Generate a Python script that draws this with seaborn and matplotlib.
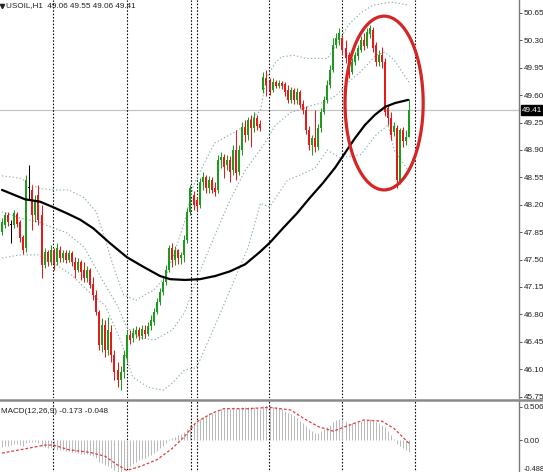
import matplotlib
matplotlib.use("Agg")
import matplotlib.pyplot as plt
import matplotlib.transforms as mtransforms
from matplotlib.lines import Line2D
from matplotlib.patches import Ellipse
import numpy as np
import seaborn as sns

# ---- USOIL H1 candles (open, high, low, close) ----
opens = [47.85, 47.94, 48.07, 47.94, 47.94, 48.08, 47.98, 47.79, 47.65, 48.42,
         48.39, 48.07, 48.33, 48.07, 47.43, 47.60, 47.47, 47.62, 47.47, 47.62,
         47.52, 47.58, 47.50, 47.58, 47.47, 47.37, 47.47, 47.37, 47.26, 47.37,
         47.19, 47.05, 46.83, 46.41, 46.66, 46.35, 46.57, 46.28, 46.09, 45.96,
         46.06, 46.24, 46.54, 46.50, 46.55, 46.60, 46.52, 46.60, 46.55, 46.65,
         46.70, 46.83, 46.96, 47.09, 47.22, 47.37, 47.65, 47.50, 47.62, 47.52,
         47.56, 47.75, 48.11, 48.33, 48.26, 48.20, 48.49, 48.55, 48.42, 48.52,
         48.42, 48.39, 48.77, 48.81, 48.71, 48.77, 48.64, 48.90, 48.62, 48.90,
         49.19, 49.09, 49.28, 49.18, 49.31, 49.23, 49.67, 49.82, 49.77, 49.67,
         49.77, 49.72, 49.76, 49.74, 49.67, 49.54, 49.67, 49.54, 49.64, 49.49,
         49.41, 49.16, 48.96, 49.05, 48.94, 49.18, 49.39, 49.54, 49.73, 49.92,
         50.24, 50.31, 50.33, 50.20, 50.11, 49.90, 50.02, 50.10, 50.18, 50.31,
         50.23, 50.38, 50.43, 50.24, 50.02, 50.11, 50.02, 49.44, 49.31, 49.13,
         49.18, 48.49, 49.16, 49.01, 49.06]
highs = [48.03, 48.11, 48.11, 48.01, 48.13, 48.11, 48.01, 47.81, 48.58, 48.71,
         48.45, 48.33, 48.45, 48.20, 47.65, 47.62, 47.69, 47.65, 47.71, 47.67,
         47.62, 47.62, 47.62, 47.61, 47.53, 47.52, 47.50, 47.47, 47.42, 47.39,
         47.28, 47.11, 46.86, 46.75, 46.73, 46.77, 46.66, 46.35, 46.19, 46.14,
         46.35, 46.60, 46.60, 46.63, 46.65, 46.64, 46.66, 46.66, 46.70, 46.79,
         46.88, 47.01, 47.14, 47.26, 47.43, 47.69, 47.71, 47.67, 47.64, 47.60,
         47.81, 48.16, 48.45, 48.37, 48.30, 48.54, 48.62, 48.58, 48.57, 48.56,
         48.49, 48.84, 48.87, 48.85, 48.84, 48.82, 48.96, 49.16, 48.96, 49.26,
         49.28, 49.32, 49.35, 49.38, 49.35, 49.28, 49.90, 49.92, 49.82, 49.82,
         49.79, 49.79, 49.78, 49.77, 49.73, 49.70, 49.69, 49.69, 49.67, 49.54,
         49.46, 49.21, 49.09, 49.41, 49.23, 49.44, 49.59, 49.79, 49.99, 50.33,
         50.39, 50.46, 50.37, 50.31, 50.15, 50.08, 50.15, 50.24, 50.36, 50.39,
         50.46, 50.50, 50.47, 50.28, 50.18, 50.21, 50.07, 49.48, 49.39, 49.26,
         49.22, 49.18, 49.20, 49.16, 49.55]
lows = [47.81, 47.90, 47.93, 47.71, 47.90, 47.92, 47.72, 47.57, 47.60, 48.26,
        47.88, 47.98, 47.94, 47.26, 47.39, 47.42, 47.43, 47.37, 47.43, 47.47,
        47.47, 47.46, 47.47, 47.42, 47.26, 47.34, 47.24, 47.21, 47.21, 47.14,
        46.98, 46.79, 46.35, 46.32, 46.26, 46.28, 46.19, 45.96, 45.87, 45.83,
        45.99, 46.19, 46.42, 46.45, 46.50, 46.47, 46.49, 46.50, 46.52, 46.60,
        46.66, 46.81, 46.92, 47.05, 47.18, 47.34, 47.41, 47.43, 47.45, 47.44,
        47.47, 47.71, 48.07, 48.13, 48.13, 48.16, 48.39, 48.35, 48.35, 48.35,
        48.31, 48.35, 48.67, 48.54, 48.64, 48.49, 48.58, 48.52, 48.58, 48.84,
        49.00, 49.03, 48.94, 49.13, 49.16, 49.14, 49.63, 49.59, 49.60, 49.64,
        49.69, 49.69, 49.68, 49.59, 49.50, 49.50, 49.49, 49.49, 49.44, 49.36,
        49.10, 48.90, 48.84, 48.87, 48.90, 49.13, 49.36, 49.50, 49.69, 49.90,
        50.20, 50.24, 50.11, 50.01, 49.82, 49.87, 49.99, 50.05, 50.15, 50.18,
        50.20, 50.33, 50.15, 49.97, 49.97, 49.95, 49.33, 49.22, 49.03, 49.08,
        48.42, 48.46, 48.94, 48.96, 49.06]
closes = [47.98, 48.07, 47.98, 47.94, 48.09, 47.95, 47.78, 47.62, 48.52, 48.42,
          48.07, 48.26, 48.01, 47.43, 47.60, 47.47, 47.62, 47.44, 47.65, 47.52,
          47.58, 47.50, 47.58, 47.47, 47.37, 47.47, 47.34, 47.26, 47.37, 47.18,
          47.05, 46.83, 46.41, 46.66, 46.35, 46.60, 46.28, 46.06, 45.96, 46.06,
          46.28, 46.54, 46.47, 46.56, 46.60, 46.52, 46.61, 46.55, 46.65, 46.73,
          46.83, 46.96, 47.09, 47.22, 47.37, 47.65, 47.50, 47.62, 47.52, 47.56,
          47.75, 48.11, 48.41, 48.20, 48.18, 48.49, 48.55, 48.42, 48.52, 48.39,
          48.36, 48.77, 48.81, 48.68, 48.77, 48.62, 48.90, 48.61, 48.90, 49.19,
          49.09, 49.28, 49.18, 49.31, 49.21, 49.18, 49.83, 49.73, 49.67, 49.77,
          49.72, 49.76, 49.72, 49.64, 49.54, 49.67, 49.54, 49.64, 49.48, 49.41,
          49.16, 48.96, 49.05, 48.94, 49.18, 49.39, 49.54, 49.73, 49.92, 50.24,
          50.33, 50.39, 50.18, 50.07, 49.86, 50.02, 50.11, 50.20, 50.31, 50.23,
          50.41, 50.46, 50.20, 50.02, 50.11, 50.02, 49.39, 49.31, 49.09, 49.21,
          48.52, 49.16, 49.01, 49.06, 49.41]

# ---- moving average (bar position, value) ----
ma_idx = [0, 7.6, 12.5, 16.8, 21.4, 25.7, 30, 35.5, 41.1, 46.4, 52, 55.3, 60.2,
          65.1, 70.1, 75, 80, 84.9, 88.2, 92.4, 97, 101.3, 105.6, 109.5, 112.8,
          116.1, 119.4, 122.7, 126, 129.3, 133.6]
ma_val = [48.39, 48.27, 48.24, 48.17, 48.09, 48.01, 47.90, 47.71, 47.53, 47.41,
          47.29, 47.25, 47.24, 47.25, 47.29, 47.35, 47.44, 47.60, 47.72, 47.90,
          48.09, 48.29, 48.48, 48.67, 48.86, 49.05, 49.22, 49.35, 49.45, 49.50,
          49.54]

# ---- Bollinger bands ----
bb_up_idx = [0, 6, 12, 17, 22, 27, 31, 34, 37, 40, 44, 47, 50, 54, 57, 60, 63, 67,
             70, 78, 85, 87, 90, 92, 96, 100, 107, 110, 114, 118, 122, 128, 134]
bb_up_val = [48.57, 48.54, 48.41, 48.39, 48.39, 48.29, 48.11, 47.75, 47.37, 47.05,
             46.98, 47.05, 47.11, 47.30, 47.62, 47.98, 48.45, 48.77, 48.99, 49.16,
             49.40, 49.82, 50.02, 50.09, 50.11, 50.07, 50.07, 50.24, 50.50, 50.65,
             50.75, 50.79, 50.75]
bb_mid_idx = [0, 6, 12, 17, 21, 27, 33, 38, 41, 45, 50, 56, 60, 65, 70, 75, 80, 86,
              90, 95, 102, 106, 110, 114, 118, 123, 126, 129, 134]
bb_mid_val = [48.11, 48.03, 47.98, 47.90, 47.85, 47.66, 47.24, 46.91, 46.64, 46.51,
              46.47, 46.60, 46.82, 47.34, 47.81, 48.26, 48.64, 48.96, 49.22, 49.38,
              49.47, 49.51, 49.60, 49.77, 49.90, 50.11, 50.15, 50.05, 49.76]
bb_low_idx = [0, 6, 12, 18, 23, 28, 34, 39, 43, 48, 53, 56, 60, 64, 69, 75, 81, 85,
              88, 94, 98, 103, 107, 111, 118, 123, 127, 129, 134]
bb_low_val = [47.52, 47.56, 47.56, 47.43, 47.30, 47.11, 46.91, 46.47, 46.00, 45.87,
              45.83, 45.92, 46.09, 46.12, 46.56, 47.11, 47.66, 48.22, 48.17, 48.52,
              48.58, 48.67, 48.90, 48.80, 48.84, 49.09, 49.22, 48.90, 48.62]

# ---- MACD(12,26,9): main histogram per bar, signal line ----
macd = [-0.10, -0.09, -0.08, -0.07, -0.06, -0.06, -0.07, -0.08, -0.04, -0.02,
        -0.03, -0.03, -0.04, -0.08, -0.10, -0.11, -0.12, -0.13, -0.14, -0.15,
        -0.15, -0.16, -0.16, -0.17, -0.18, -0.19, -0.20, -0.21, -0.21, -0.22,
        -0.24, -0.27, -0.32, -0.34, -0.37, -0.39, -0.42, -0.45, -0.47, -0.47,
        -0.45, -0.41, -0.38, -0.35, -0.32, -0.30, -0.28, -0.26, -0.24, -0.22,
        -0.19, -0.16, -0.12, -0.08, -0.04, 0.02, 0.04, 0.06, 0.08, 0.10,
        0.13, 0.18, 0.24, 0.27, 0.29, 0.33, 0.36, 0.38, 0.40, 0.41,
        0.42, 0.46, 0.48, 0.48, 0.49, 0.48, 0.50, 0.48, 0.49, 0.51,
        0.50, 0.51, 0.50, 0.50, 0.49, 0.48, 0.52, 0.53, 0.52, 0.51,
        0.50, 0.49, 0.47, 0.45, 0.42, 0.40, 0.37, 0.34, 0.30, 0.27,
        0.22, 0.17, 0.14, 0.12, 0.12, 0.14, 0.17, 0.20, 0.24, 0.28,
        0.31, 0.33, 0.32, 0.30, 0.27, 0.27, 0.27, 0.28, 0.30, 0.31,
        0.31, 0.32, 0.30, 0.28, 0.26, 0.24, 0.20, 0.15, 0.08, 0.03,
        -0.06, -0.08, -0.11, -0.14, -0.173]
sig_idx = [0, 6, 14, 17, 22, 29, 34, 38, 41, 45, 51, 56, 60, 64, 69, 73, 81, 88,
           95, 99, 104, 109, 113, 119, 125, 129, 134]
sig_val = [-0.19, -0.14, -0.07, -0.07, -0.14, -0.18, -0.24, -0.37, -0.45, -0.40,
           -0.29, -0.12, 0.06, 0.28, 0.41, 0.48, 0.48, 0.50, 0.46, 0.34,
           0.21, 0.14, 0.21, 0.31, 0.29, 0.18, -0.048]

# day / week separators (bar positions)
separators = [16.8, 41.1, 62.2, 64.1, 87.8, 111.8, 135.9]

price_ticks = [50.65, 50.30, 49.95, 49.60, 49.25, 48.90, 48.55, 48.20,
               47.85, 47.50, 47.15, 46.80, 46.45, 46.10, 45.75]
macd_ticks = [0.506, 0.0, -0.488]
macd_tick_labels = ["0.506", "0.00", "-0.488"]
last_price = 49.41
title = "USOIL,H1  49.06 49.55 49.06 49.41"
macd_title = "MACD(12,26,9) -0.173 -0.048"

assert len(opens) == len(highs) == len(lows) == len(closes) == len(macd)

sns.set_style("white")
plt.rcParams["font.family"] = ["Liberation Sans", "DejaVu Sans"]
FS = 5.9

W, H = 543, 472
fig = plt.figure(figsize=(W / 100, H / 100), dpi=100)
ax = fig.add_axes([0, 1 - 398 / H, 519 / W, 398 / H])
mx = fig.add_axes([0, 1 - 476 / H, 519 / W, 75 / H])

xmin, xmax = -0.66, 170.07
GREEN, RED = "#1e9a1e", "#e31b1b"
BAND = "#8ab0a9"

# candles
idx = np.arange(len(closes))
o = np.array(opens); c = np.array(closes)
h = np.array(highs); l = np.array(lows)
cols = np.where(c > o, GREEN, np.where(c < o, RED, "#000000"))
ax.vlines(idx, l, h, colors=cols, lw=0.75, zorder=3)
body_lo = np.minimum(o, c)
body_h = np.maximum(np.abs(c - o), 0.012)
ax.bar(idx, body_h, bottom=body_lo, width=0.66, color=cols, lw=0, zorder=4)

# bands and moving average
dots = (0, (1.2, 2.0))
for bx, by in [(bb_up_idx, bb_up_val), (bb_mid_idx, bb_mid_val), (bb_low_idx, bb_low_val)]:
    sns.lineplot(x=bx, y=by, ax=ax, color=BAND, lw=0.8, linestyle=dots, zorder=2)
sns.lineplot(x=ma_idx, y=ma_val, ax=ax, color="black", lw=1.6, zorder=5)

# bid line and separators
ax.axhline(last_price, color="#c4c4c4", lw=0.9, zorder=1)
for s in separators:
    for a in (ax, mx):
        a.axvline(s, color="black", lw=0.8, linestyle=(0, (1.4, 1.6)), zorder=1)

# highlight ellipse
ax.add_patch(Ellipse((125.7, 49.50), 25.7, 2.22, fill=False, ec="#d42626",
                     lw=2.3, zorder=6))

ax.set_xlim(xmin, xmax)
ax.set_ylim(45.732, 50.816)
ax.set_xticks([])
ax.yaxis.tick_right()
ax.set_yticks(price_ticks)
ax.set_yticklabels([f"{v:.2f}" for v in price_ticks])
for a in (ax, mx):
    for sp in ("left", "top", "bottom"):
        a.spines[sp].set_visible(False)
    a.spines["right"].set_color("#7a7a7a")
    a.spines["right"].set_linewidth(1.0)
    a.tick_params(axis="y", which="both", right=True, left=False, length=2.2,
                  width=0.7, color="#555555", pad=1.0, labelsize=FS,
                  labelcolor="#202020")
    a.set_xlabel(""); a.set_ylabel("")

# current price label
trans = mtransforms.blended_transform_factory(ax.transAxes, ax.transData)
ax.text(1.006, last_price, "49.41", transform=trans, ha="left", va="center",
        fontsize=FS, color="white", zorder=10,
        bbox=dict(boxstyle="square,pad=0.18", fc="black", ec="black"))

ax.text(0.011, 0.986, title, transform=ax.transAxes, ha="left", va="center",
        fontsize=FS, color="#222222")
ax.plot([0.003], [0.986], marker="v", ms=3, color="#222222",
        transform=ax.transAxes, clip_on=False)

# MACD panel
mx.vlines(idx, 0, macd, colors="#b8b8b8", lw=0.7, zorder=2)
sns.lineplot(x=sig_idx, y=sig_val, ax=mx, color="#e03c3c", lw=0.9,
             linestyle=(0, (2.2, 1.6)), zorder=3)
mx.set_xlim(xmin, xmax)
mx.set_ylim(-0.536, 0.596)
mx.set_xticks([])
mx.yaxis.tick_right()
mx.set_yticks(macd_ticks)
mx.set_yticklabels(macd_tick_labels)
# keep the lowest MACD label inside the figure
low_lbl = mx.get_yticklabels()[-1]
low_lbl.set_verticalalignment("bottom")
low_lbl.set_fontsize(5.3)
mx.text(0.002, 0.86, macd_title, transform=mx.transAxes, ha="left",
        va="center", fontsize=FS, color="#222222")

# panel divider
fig.add_artist(Line2D([0, 1], [1 - 399.5 / H] * 2, color="#8a8a8a", lw=1.8,
                      transform=fig.transFigure))

fig.savefig("out.png", dpi=100, facecolor="white")
